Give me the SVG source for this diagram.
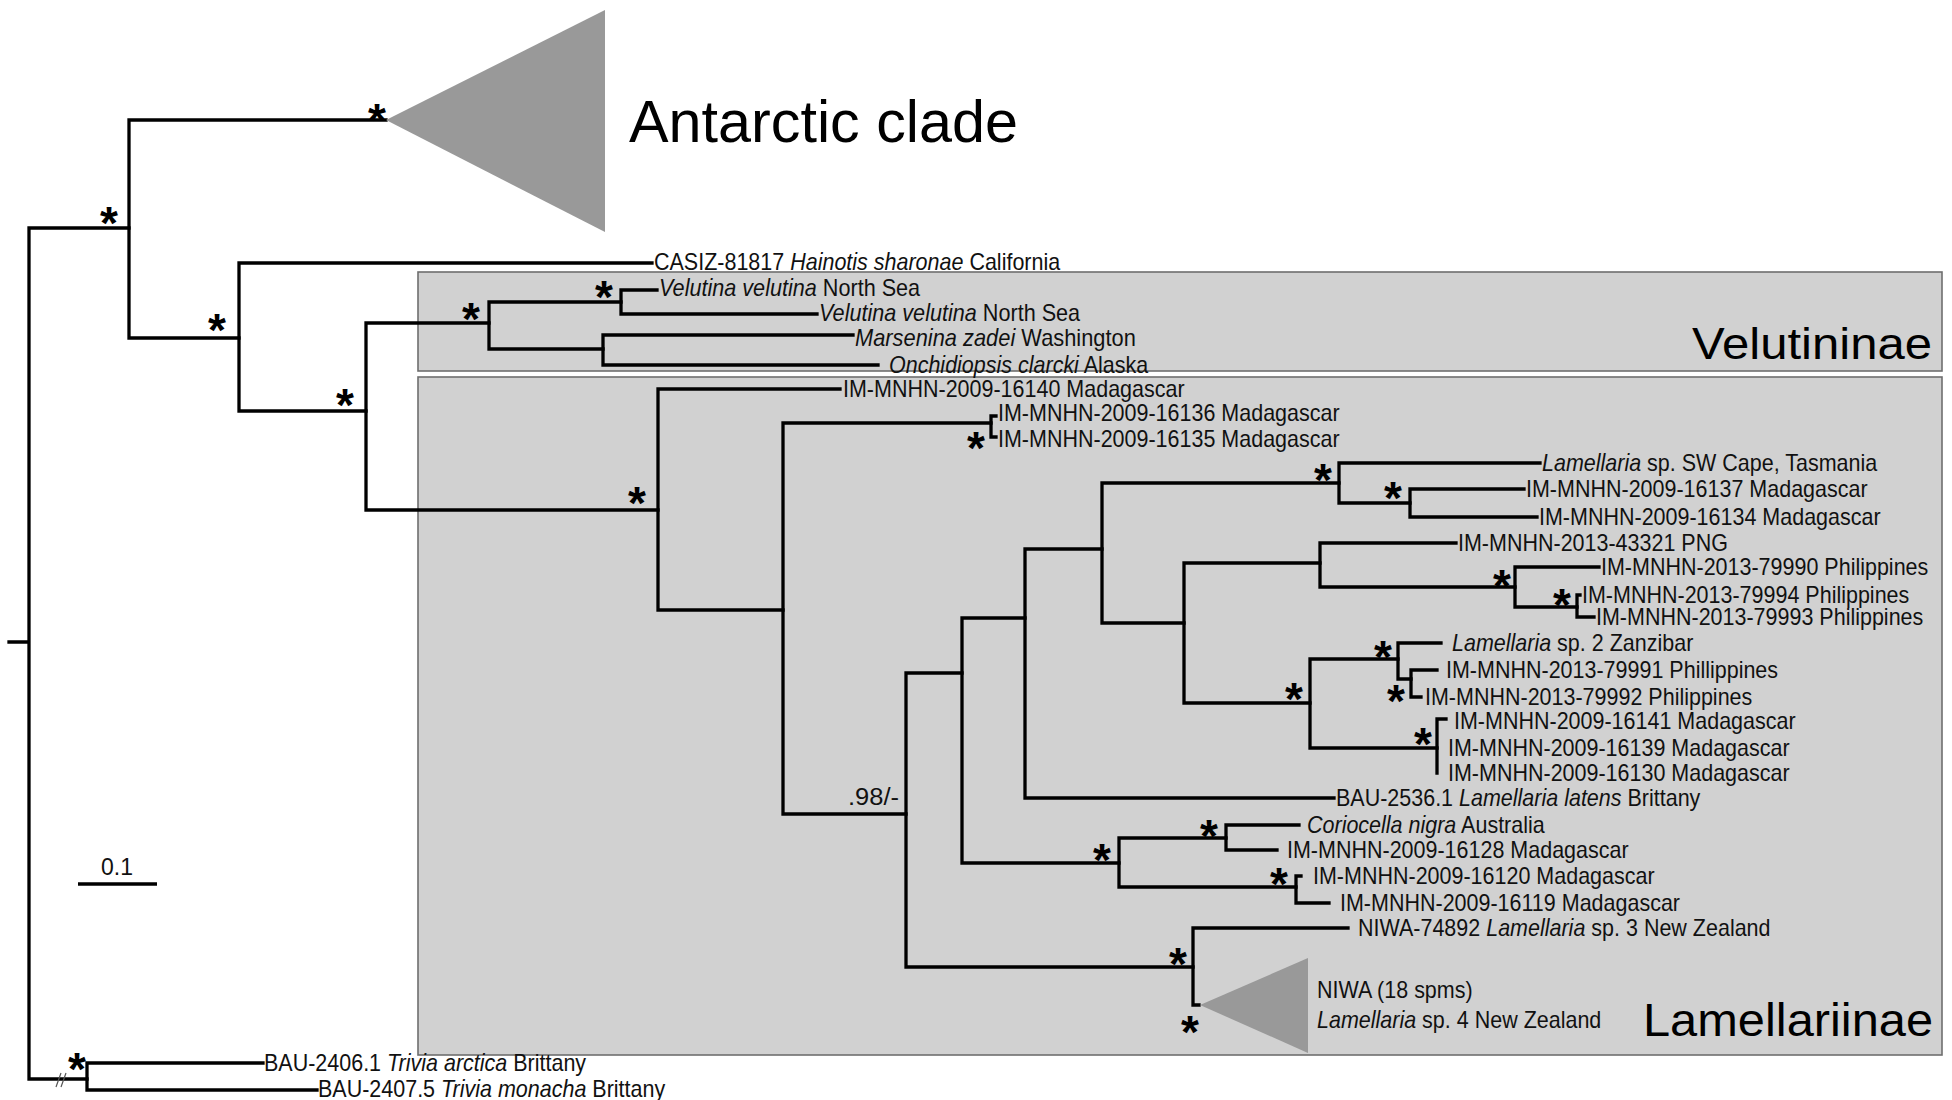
<svg xmlns="http://www.w3.org/2000/svg" width="1952" height="1100" viewBox="0 0 1952 1100">
<style>
.bg{fill:#ffffff}
.box{fill:#d1d1d1;stroke:#6e6e6e;stroke-width:1.6}
.br{fill:none;stroke:#000;stroke-width:3.3;stroke-linecap:square}
.tri{fill:#999999}
.lb{font-family:"Liberation Sans",Arial,sans-serif;font-size:23px;fill:#111}
.it{font-style:italic}
.ast{font-family:"Liberation Sans",Arial,sans-serif;font-weight:bold;font-size:46px;text-anchor:middle;fill:#000}
.big{font-family:"Liberation Sans",Arial,sans-serif;fill:#000}
</style>
<rect class="bg" x="0" y="0" width="1952" height="1100"/>

<g id="clade-boxes">
<rect id="box-velutininae" class="box" x="418" y="272" width="1524" height="99"/>
<rect id="box-lamellariinae" class="box" x="418" y="377" width="1524" height="678"/>
</g>

<g id="connectors">
<path class="br" d="M9 642 H29 M29 228 V1079 M29 228 H129 M29 1079 H87"/>
<path class="br" d="M129 120 V338 M129 120 H386 M129 338 H239"/>
<path class="br" d="M239 263 V411 M239 263 H652 M239 411 H366"/>
<path class="br" d="M366 323 V510 M366 323 H489 M366 510 H658"/>
<path class="br" d="M489 302 V349 M489 302 H621 M489 349 H603"/>
<path class="br" d="M621 290 V314 M621 290 H657 M621 314 H817"/>
<path class="br" d="M603 335 V365 M603 335 H853 M603 365 H878"/>
<path class="br" d="M658 389 V610 M658 389 H840 M658 610 H783"/>
<path class="br" d="M783 423 V814 M783 423 H991 M783 814 H906"/>
<path class="br" d="M991 416 V437 M991 416 H996 M991 437 H996"/>
<path class="br" d="M906 673 V967 M906 673 H962 M906 967 H1193"/>
<path class="br" d="M962 618 V863 M962 618 H1025 M962 863 H1119"/>
<path class="br" d="M1025 549 V798 M1025 549 H1102 M1025 798 H1334"/>
<path class="br" d="M1102 483 V623 M1102 483 H1339 M1102 623 H1184"/>
<path class="br" d="M1339 463 V503 M1339 463 H1540 M1339 503 H1410"/>
<path class="br" d="M1410 489 V517 M1410 489 H1524 M1410 517 H1537"/>
<path class="br" d="M1184 563 V703 M1184 563 H1320 M1184 703 H1310"/>
<path class="br" d="M1320 543 V587 M1320 543 H1456 M1320 587 H1515"/>
<path class="br" d="M1515 567 V607 M1515 567 H1599 M1515 607 H1577"/>
<path class="br" d="M1577 595 V617 M1577 595 H1580 M1577 617 H1594"/>
<path class="br" d="M1310 659 V748 M1310 659 H1398 M1310 748 H1437"/>
<path class="br" d="M1398 643 V679 M1398 643 H1441 M1398 679 H1411"/>
<path class="br" d="M1411 670 V697 M1411 670 H1437 M1411 697 H1421"/>
<path class="br" d="M1437 719 V773 M1437 719 H1446"/>
<path class="br" d="M1119 838 V887 M1119 838 H1226 M1119 887 H1296"/>
<path class="br" d="M1226 825 V850 M1226 825 H1299 M1226 850 H1277"/>
<path class="br" d="M1296 876 V903 M1296 876 H1301 M1296 903 H1329"/>
<path class="br" d="M1193 928 V1005 M1193 928 H1348 M1193 1005 H1199"/>
<path class="br" d="M87 1063 V1090 M87 1063 H263 M87 1090 H317"/>
<path d="M56 1087 L61 1073 M61 1087 L66 1073" stroke="#555" stroke-width="1.2" fill="none"/>
</g>

<g id="support-values">
<text class="ast" x="377" y="136">*</text>
<text class="ast" x="109" y="239">*</text>
<text class="ast" x="217" y="346">*</text>
<text class="ast" x="345" y="421">*</text>
<text class="ast" x="471" y="335">*</text>
<text class="ast" x="604" y="313">*</text>
<text class="ast" x="637" y="519">*</text>
<text class="ast" x="976" y="464">*</text>
<text class="ast" x="1323" y="496">*</text>
<text class="ast" x="1393" y="514">*</text>
<text class="ast" x="1502" y="602">*</text>
<text class="ast" x="1562" y="621">*</text>
<text class="ast" x="1294" y="715">*</text>
<text class="ast" x="1383" y="673">*</text>
<text class="ast" x="1396" y="717">*</text>
<text class="ast" x="1423" y="760">*</text>
<text class="ast" x="1102" y="876">*</text>
<text class="ast" x="1209" y="852">*</text>
<text class="ast" x="1279" y="900">*</text>
<text class="ast" x="1178" y="980">*</text>
<text class="ast" x="1190" y="1048">*</text>
<text class="ast" x="77" y="1085">*</text>
<text class="lb" x="848" y="805" font-size="24" textLength="51" lengthAdjust="spacingAndGlyphs">.98/-</text>
</g>

<g id="antarctic-clade">
<polygon class="tri" points="386,120 605,10 605,232"/>
<text class="big" x="629" y="142" font-size="60" textLength="389" lengthAdjust="spacingAndGlyphs">Antarctic clade</text>
</g>

<g id="title-velutininae"><text class="big" x="1692" y="359" font-size="45" textLength="240" lengthAdjust="spacingAndGlyphs">Velutininae</text></g>
<g id="title-lamellariinae"><text class="big" x="1643" y="1036" font-size="47" textLength="290" lengthAdjust="spacingAndGlyphs">Lamellariinae</text></g>

<g id="leaf-casiz81817"><text class="lb" transform="translate(654,270) scale(0.935,1)">CASIZ-81817 <tspan class="it">Hainotis sharonae</tspan> California</text></g>
<g id="leaf-velutina1"><text class="lb" font-size="22" transform="translate(659,296) scale(0.94,1)"><tspan class="it">Velutina velutina</tspan> North Sea</text></g>
<g id="leaf-velutina2"><text class="lb" font-size="22" transform="translate(819,321) scale(0.94,1)"><tspan class="it">Velutina velutina</tspan> North Sea</text></g>
<g id="leaf-marsenina"><text class="lb" font-size="22" transform="translate(855,346) scale(0.95,1)"><tspan class="it">Marsenina zadei</tspan> Washington</text></g>
<g id="leaf-onchidiopsis"><text class="lb" transform="translate(889,373) scale(0.935,1)"><tspan class="it">Onchidiopsis clarcki</tspan> Alaska</text></g>
<g id="leaf-16140"><text class="lb" transform="translate(843,397) scale(0.935,1)">IM-MNHN-2009-16140 Madagascar</text></g>
<g id="leaf-16136"><text class="lb" transform="translate(998,421) scale(0.935,1)">IM-MNHN-2009-16136 Madagascar</text></g>
<g id="leaf-16135"><text class="lb" transform="translate(998,447) scale(0.935,1)">IM-MNHN-2009-16135 Madagascar</text></g>
<g id="leaf-tasmania"><text class="lb" transform="translate(1542,471) scale(0.935,1)"><tspan class="it">Lamellaria</tspan> sp. SW Cape, Tasmania</text></g>
<g id="leaf-16137"><text class="lb" transform="translate(1526,497) scale(0.935,1)">IM-MNHN-2009-16137 Madagascar</text></g>
<g id="leaf-16134"><text class="lb" transform="translate(1539,525) scale(0.935,1)">IM-MNHN-2009-16134 Madagascar</text></g>
<g id="leaf-43321"><text class="lb" transform="translate(1458,551) scale(0.935,1)">IM-MNHN-2013-43321 PNG</text></g>
<g id="leaf-79990"><text class="lb" transform="translate(1601,575) scale(0.935,1)">IM-MNHN-2013-79990 Philippines</text></g>
<g id="leaf-79994"><text class="lb" transform="translate(1582,603) scale(0.935,1)">IM-MNHN-2013-79994 Philippines</text></g>
<g id="leaf-79993"><text class="lb" transform="translate(1596,625) scale(0.935,1)">IM-MNHN-2013-79993 Philippines</text></g>
<g id="leaf-zanzibar"><text class="lb" transform="translate(1452,651) scale(0.935,1)"><tspan class="it">Lamellaria</tspan> sp. 2 Zanzibar</text></g>
<g id="leaf-79991"><text class="lb" transform="translate(1446,678) scale(0.935,1)">IM-MNHN-2013-79991 Phillippines</text></g>
<g id="leaf-79992"><text class="lb" transform="translate(1425,705) scale(0.935,1)">IM-MNHN-2013-79992 Philippines</text></g>
<g id="leaf-16141"><text class="lb" transform="translate(1454,729) scale(0.935,1)">IM-MNHN-2009-16141 Madagascar</text></g>
<g id="leaf-16139"><text class="lb" transform="translate(1448,756) scale(0.935,1)">IM-MNHN-2009-16139 Madagascar</text></g>
<g id="leaf-16130"><text class="lb" transform="translate(1448,781) scale(0.935,1)">IM-MNHN-2009-16130 Madagascar</text></g>
<g id="leaf-bau2536"><text class="lb" transform="translate(1336,806) scale(0.935,1)">BAU-2536.1 <tspan class="it">Lamellaria latens</tspan> Brittany</text></g>
<g id="leaf-coriocella"><text class="lb" transform="translate(1307,833) scale(0.935,1)"><tspan class="it">Coriocella nigra</tspan> Australia</text></g>
<g id="leaf-16128"><text class="lb" transform="translate(1287,858) scale(0.935,1)">IM-MNHN-2009-16128 Madagascar</text></g>
<g id="leaf-16120"><text class="lb" transform="translate(1313,884) scale(0.935,1)">IM-MNHN-2009-16120 Madagascar</text></g>
<g id="leaf-16119"><text class="lb" transform="translate(1340,911) scale(0.935,1)">IM-MNHN-2009-16119 Madagascar</text></g>
<g id="leaf-niwa74892"><text class="lb" transform="translate(1358,936) scale(0.935,1)">NIWA-74892 <tspan class="it">Lamellaria</tspan> sp. 3 New Zealand</text></g>
<g id="clade-niwa">
<polygon class="tri" points="1200,1005 1308,958 1308,1053"/>
<text class="lb" transform="translate(1317,998) scale(0.935,1)">NIWA (18 spms)</text>
<text class="lb" transform="translate(1317,1028) scale(0.935,1)"><tspan class="it">Lamellaria</tspan> sp. 4 New Zealand</text>
</g>
<g id="leaf-bau2406"><text class="lb" transform="translate(264,1071) scale(0.935,1)">BAU-2406.1 <tspan class="it">Trivia arctica</tspan> Brittany</text></g>
<g id="leaf-bau2407"><text class="lb" transform="translate(318,1097) scale(0.935,1)">BAU-2407.5 <tspan class="it">Trivia monacha</tspan> Brittany</text></g>

<g id="scale-bar">
<path d="M78 884 H157" stroke="#000" stroke-width="3.3" fill="none"/>
<text class="lb" x="117" y="875" font-size="26" text-anchor="middle">0.1</text>
</g>
</svg>
